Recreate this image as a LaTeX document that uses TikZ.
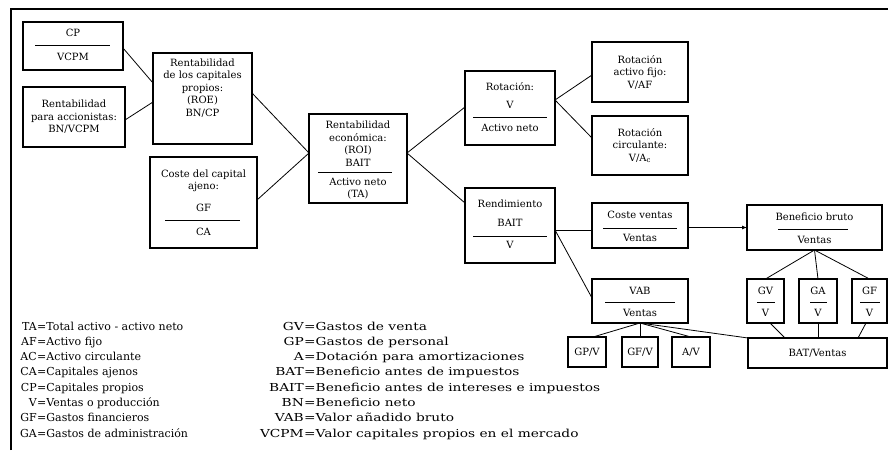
\documentclass[tikz,border=0pt]{standalone}
\usepackage{fontspec}
\setmainfont{DejaVu Serif}
\newfontfamily\legwide[FakeStretch=1.25]{DejaVu Serif}
\usetikzlibrary{arrows.meta}
\begin{document}
\begin{tikzpicture}[x=1pt,y=-1pt,
  box/.style={draw, line width=1.1pt, inner sep=0pt, outer sep=0pt, align=center,
    font=\fontsize{10}{12.5}\selectfont},
  txt/.style={inner sep=0pt, align=center, font=\fontsize{10}{12.5}\selectfont},
  fracline/.style={line width=0.8pt},
  conn/.style={line width=0.8pt},
  arr/.style={line width=0.8pt, -{Latex[length=5pt,width=4pt]}},
  frame/.style={line width=1.8pt},
  leg/.style={inner sep=0pt, font=\fontsize{11}{15.3}\selectfont},
  legw/.style={inner sep=0pt, font=\legwide\fontsize{11}{15.3}\selectfont}]
\useasboundingbox (0,0) rectangle (888,450);
\fill[white] (0,0) rectangle (888,450);
% frame
\draw[frame] (11,450) -- (11,9) -- (888,9);

% ---- boxes ----
\node[box, minimum width=100pt, minimum height=48pt] (cp) at (73,46) {};
\node[txt] (cpN) at (73,33) {CP};
\draw[fracline] (35,45) -- (110,45);
\node[txt] (cpD) at (73,57) {VCPM};

\node[box, minimum width=102pt, minimum height=60pt] (acc) at (74,117)
  {Rentabilidad\\para accionistas:\\BN/VCPM};

\node[box, minimum width=99pt, minimum height=91pt] (roe) at (202.5,98.5) {};
\node[txt] (roeT) at (202.5,88) {Rentabilidad\\de los capitales\\propios:\\(ROE)\\BN/CP};

\node[box, minimum width=107pt, minimum height=91pt] (aj) at (203.5,202.5) {};
\node[txt] (ajT) at (203.5,181) {Coste del capital\\ajeno:};
\node[txt] (ajN) at (203.5,208) {GF};
\draw[fracline] (165,220) -- (240,220);
\node[txt] (ajD) at (203.5,232) {CA};

\node[box, minimum width=98pt, minimum height=89pt] (roi) at (358,158.5) {};
\node[txt] (roiT) at (358,143.5) {Rentabilidad\\económica:\\(ROI)\\BAIT};
\draw[fracline] (318,172) -- (392,172);
\node[txt] (roiD) at (358,188.5) {Activo neto\\(TA)};

\node[box, minimum width=90pt, minimum height=74pt] (rot) at (510,108) {};
\node[txt] (rotT) at (510,87) {Rotación:};
\node[txt] (rotN) at (510,105) {V};
\draw[fracline] (473,117) -- (547,117);
\node[txt] (rotD) at (510,128) {Activo neto};

\node[box, minimum width=96pt, minimum height=60pt] (raf) at (640,72)
  {Rotación\\activo fijo:\\V/AF};
\node[box, minimum width=96pt, minimum height=59pt] (rc) at (640,145.5)
  {Rotación\\circulante:\\V/A\textsubscript{c}};

\node[box, minimum width=90pt, minimum height=75pt] (rend) at (510,225.5) {};
\node[txt] (rendT) at (510,204) {Rendimiento};
\node[txt] (rendN) at (510,223) {BAIT};
\draw[fracline] (473,236) -- (547,236);
\node[txt] (rendD) at (510,245) {V};

\node[box, minimum width=96pt, minimum height=45pt] (cv) at (640,225.5) {};
\node[txt] (cvN) at (640,215) {Coste ventas};
\draw[fracline] (603,228) -- (677,228);
\node[txt] (cvD) at (640,238) {Ventas};

\node[box, minimum width=96pt, minimum height=44pt] (vab) at (640,301) {};
\node[txt] (vabN) at (640,291) {VAB};
\draw[fracline] (605,302) -- (675,302);
\node[txt] (vabD) at (640,313) {Ventas};

\node[box, minimum width=135pt, minimum height=45pt] (bb) at (814.5,227.5) {};
\node[txt] (bbN) at (814.5,217) {Beneficio bruto};
\draw[fracline] (778,229) -- (848,229);
\node[txt] (bbD) at (814.5,240) {Ventas};

\node[box, minimum width=37pt, minimum height=44pt] (gv) at (765.5,301) {};
\node[txt] (gvN) at (765.5,291) {GV};
\draw[fracline] (757,302) -- (775,302);
\node[txt] (gvD) at (765.5,313) {V};

\node[box, minimum width=38pt, minimum height=44pt] (ga) at (818,301) {};
\node[txt] (gaN) at (818,291) {GA};
\draw[fracline] (810,302) -- (827,302);
\node[txt] (gaD) at (818,313) {V};

\node[box, minimum width=35pt, minimum height=44pt] (gf) at (869.5,301) {};
\node[txt] (gfN) at (869.5,291) {GF};
\draw[fracline] (860,302) -- (880,302);
\node[txt] (gfD) at (869.5,313) {V};

\node[box, minimum width=139pt, minimum height=30pt] (bat) at (817.5,353) {BAT/Ventas};
\node[box, minimum width=38pt, minimum height=30pt] (gpv) at (587,352) {GP/V};
\node[box, minimum width=36pt, minimum height=30pt] (gfv) at (640,352) {GF/V};
\node[box, minimum width=38pt, minimum height=30pt] (av) at (691,352) {A/V};

% ---- connectors ----
\draw[conn] ([yshift=-2pt]cp.east) -- ([yshift=15.5pt]roe.west);
\draw[conn] ([yshift=-3pt]acc.east) -- ([yshift=-3.5pt]roe.west);
\draw[conn] ([yshift=5.5pt]roe.east) -- ([yshift=5.5pt]roi.west);
\draw[conn] ([yshift=2.5pt]aj.east) -- ([yshift=5.5pt]roi.west);
\draw[conn] ([yshift=5.5pt]roi.east) -- ([yshift=1pt]rot.west);
\draw[conn] ([yshift=5.5pt]roi.east) -- ([yshift=22.5pt]rend.west);
\draw[conn] ([yshift=8pt]rot.east) -- ([yshift=-3pt]raf.west);
\draw[conn] ([yshift=8pt]rot.east) -- ([yshift=7.5pt]rc.west);
\draw[conn] ([yshift=-4.5pt]rend.east) -- ([yshift=-4.5pt]cv.west);
\draw[conn] ([yshift=-4.5pt]rend.east) -- ([yshift=3pt]vab.west);
\draw[arr] (cv.east |- bb.west) -- (bb.west);
\draw[conn] (bb.south) -- (gv.north);
\draw[conn] (bb.south) -- (ga.north);
\draw[conn] (bb.south) -- (gf.north);
\draw[conn] ([xshift=4.5pt]gv.south) -- ([xshift=37pt]bat.north west);
\draw[conn] (ga.south) -- (ga.south |- bat.north);
\draw[conn] ([xshift=-3.5pt]gf.south) -- ([xshift=110pt]bat.north west);
\draw[conn] (vab.south) -- ([xshift=6pt]gpv.north);
\draw[conn] (vab.south) -- (gfv.north);
\draw[conn] (vab.south) -- (av.north);
\draw[conn] (vab.south) -- (bat.north west);

% ---- legend ----
\node[leg, anchor=base east] (legLa) at (37,330)
  {\begin{tabular}[t]{@{}r@{}}TA\\AF\\AC\\CA\\CP\\V\\GF\\GA\end{tabular}};
\node[leg, anchor=base west] (legLb) at (37,330)
  {\begin{tabular}[t]{@{}l@{}}=Total activo - activo neto\\=Activo fijo\\=Activo circulante\\=Capitales ajenos\\=Capitales propios\\=Ventas o producción\\=Gastos financieros\\=Gastos de administración\end{tabular}};
\node[legw, anchor=base east] (legRa) at (304,330)
  {\begin{tabular}[t]{@{}r@{}}GV\\GP\\A\\BAT\\BAIT\\BN\\VAB\\VCPM\end{tabular}};
\node[legw, anchor=base west] (legRb) at (304,330)
  {\begin{tabular}[t]{@{}l@{}}=Gastos de venta\\=Gastos de personal\\=Dotación para amortizaciones\\=Beneficio antes de impuestos\\=Beneficio antes de intereses e impuestos\\=Beneficio neto\\=Valor añadido bruto\\=Valor capitales propios en el mercado\end{tabular}};
\end{tikzpicture}
\end{document}
